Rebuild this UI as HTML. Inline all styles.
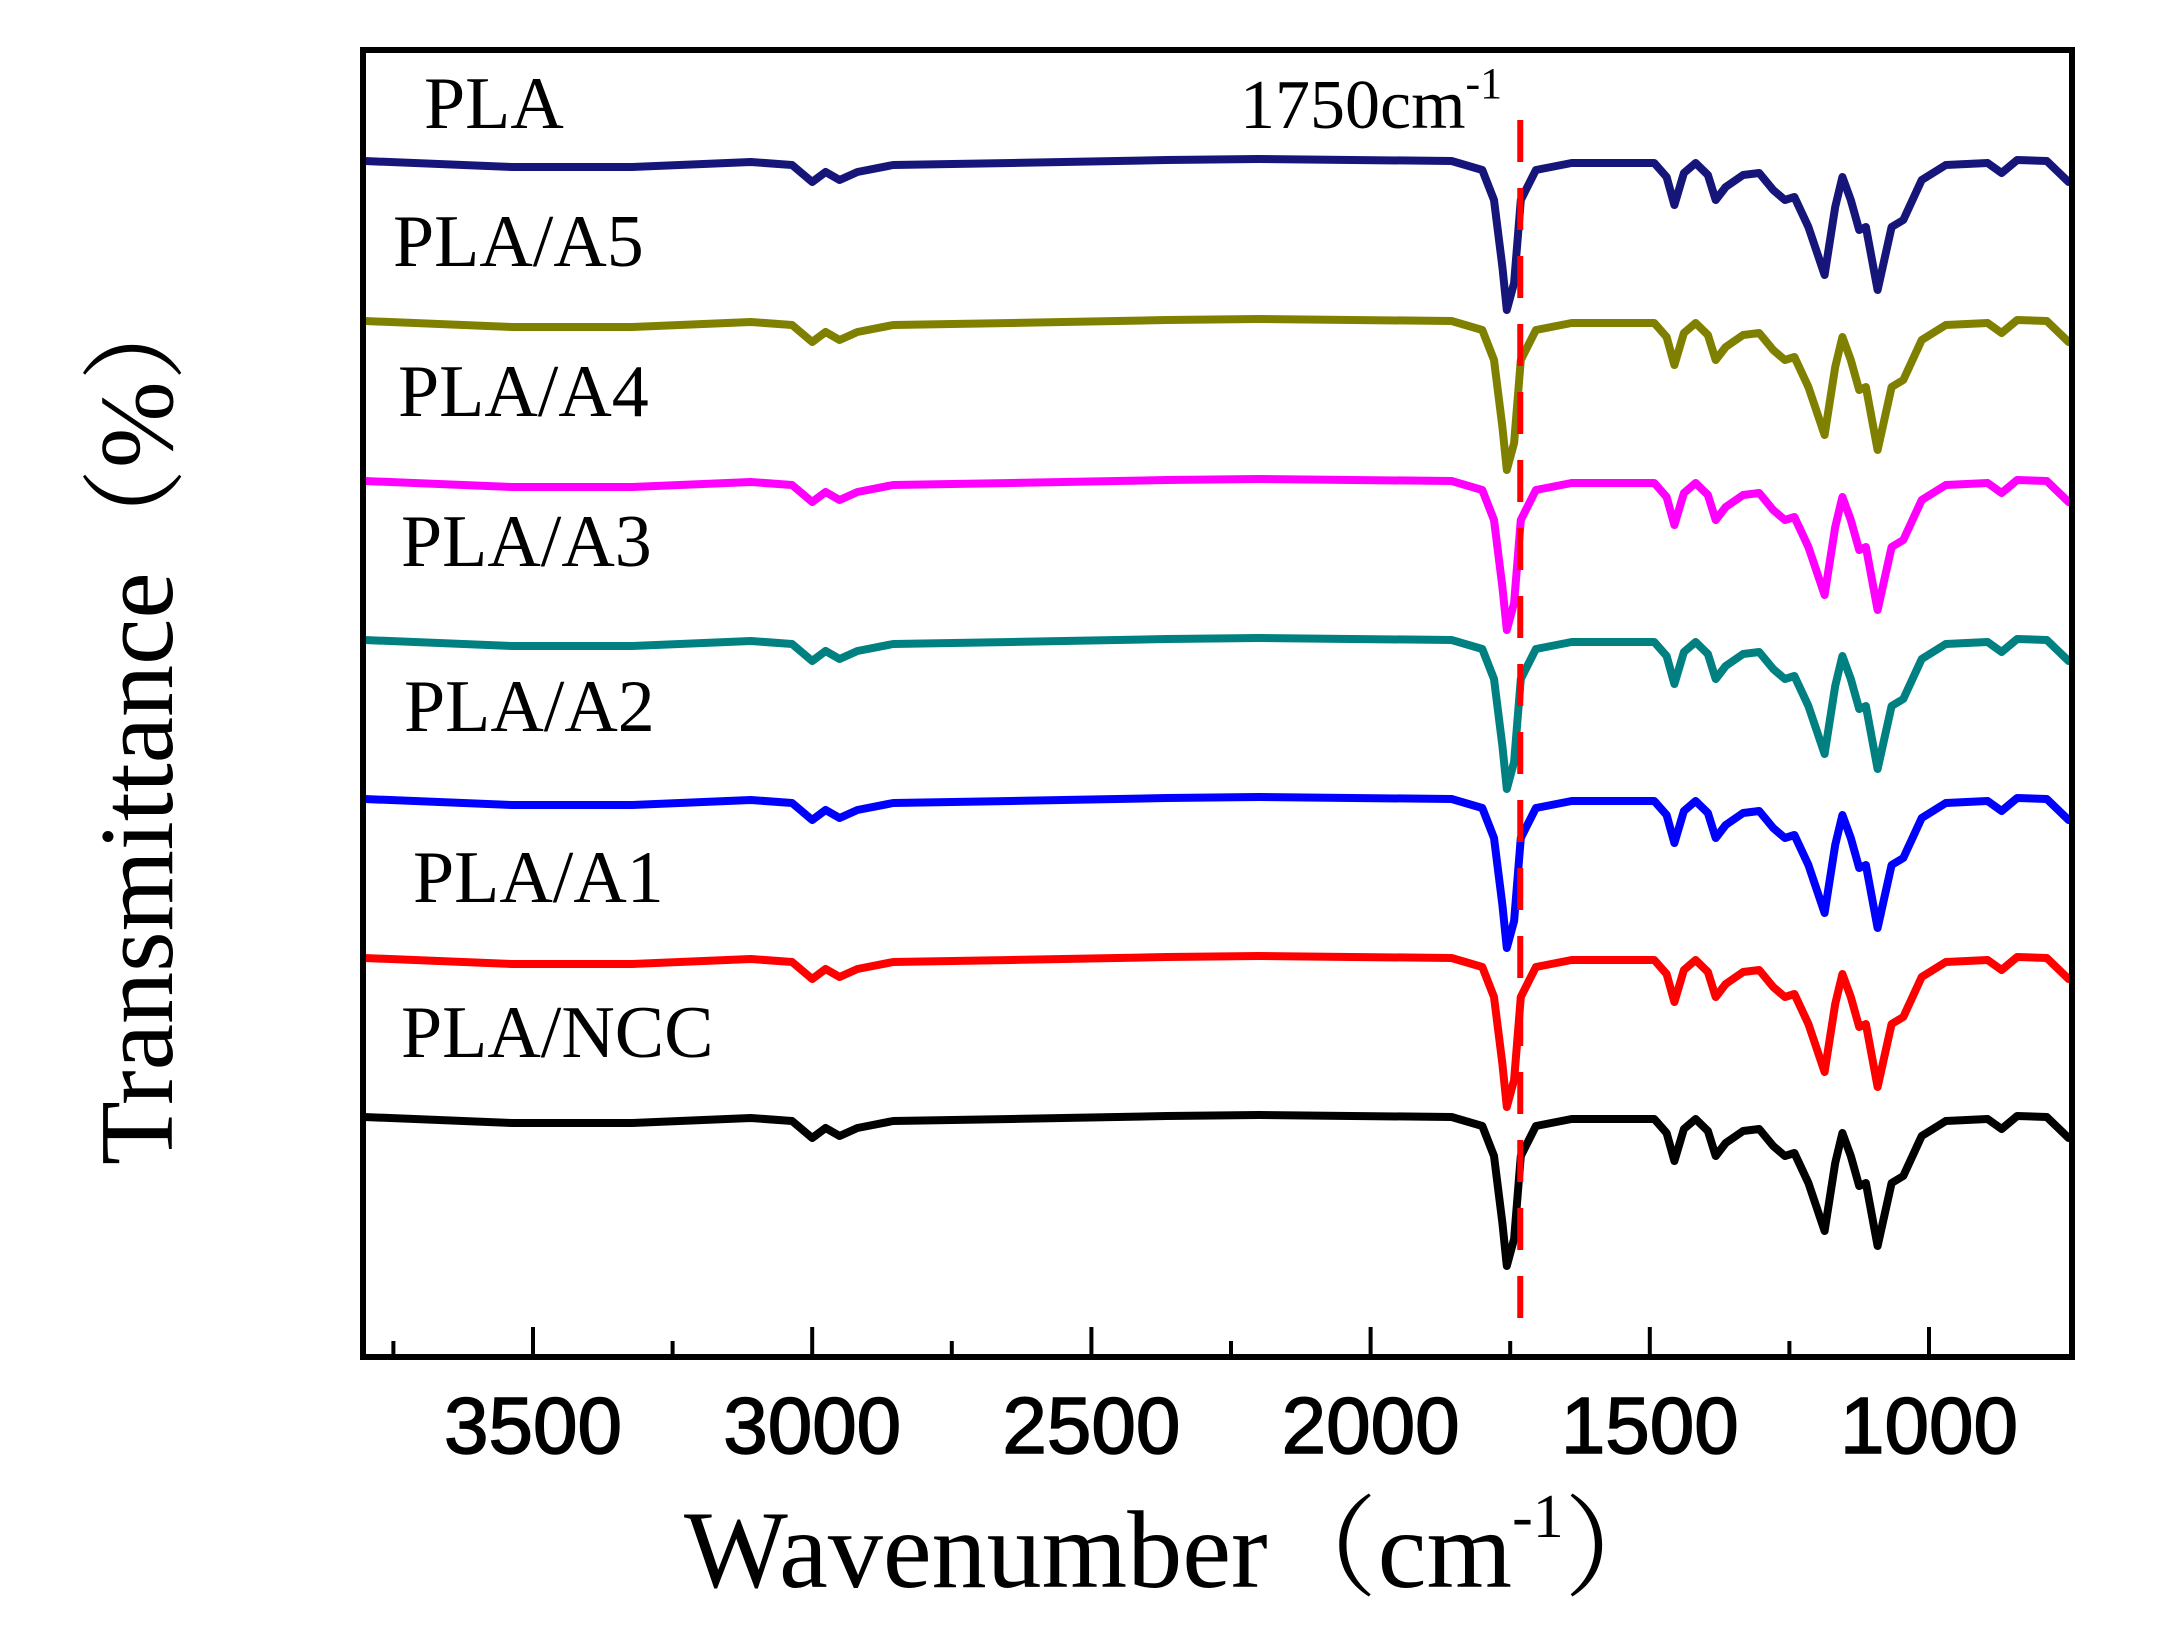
<!DOCTYPE html>
<html><head><meta charset="utf-8"><style>
html,body{margin:0;padding:0;background:#fff;}
svg{display:block;}
</style></head><body>
<svg id="chart" width="2164" height="1628" viewBox="0 0 2164 1628" xmlns="http://www.w3.org/2000/svg">
<rect x="0" y="0" width="2164" height="1628" fill="#fff"/>
<g id="series-layer"></g>
<g id="axes-layer"></g>
</svg>
<script>
const wavenumbers = [3802,3537,3323,3110,3036,3000,2976,2951,2919,2855,2643,2365,2200,1855,1800,1779,1764,1756,1743,1731,1704,1640,1492,1470,1456,1439,1418,1396,1382,1364,1333,1304,1279,1258,1241,1216,1187,1168,1155,1140,1125,1113,1092,1067,1046,1013,970,895,870,842,789,750];
const plaValues   = [0,-6,-6,-1,-4,-21,-11,-19,-11,-4,-2,1,2,0,-9,-39,-106,-149,-122,-39,-9,-2,-2,-16,-44,-12,-2,-14,-39,-26,-14,-12,-29,-39,-36,-66,-114,-46,-16,-39,-69,-66,-129,-66,-59,-19,-4,-2,-12,1,0,-21];
const a5Values    = [0,-6,-6,-1,-4,-21,-11,-19,-11,-4,-2,1,2,0,-9,-39,-106,-149,-122,-39,-9,-2,-2,-16,-44,-12,-2,-14,-39,-26,-14,-12,-29,-39,-36,-66,-114,-46,-16,-39,-69,-66,-129,-66,-59,-19,-4,-2,-12,1,0,-21];
const a4Values    = [0,-6,-6,-1,-4,-21,-11,-19,-11,-4,-2,1,2,0,-9,-39,-106,-149,-122,-39,-9,-2,-2,-16,-44,-12,-2,-14,-39,-26,-14,-12,-29,-39,-36,-66,-114,-46,-16,-39,-69,-66,-129,-66,-59,-19,-4,-2,-12,1,0,-21];
const a3Values    = [0,-6,-6,-1,-4,-21,-11,-19,-11,-4,-2,1,2,0,-9,-39,-106,-149,-122,-39,-9,-2,-2,-16,-44,-12,-2,-14,-39,-26,-14,-12,-29,-39,-36,-66,-114,-46,-16,-39,-69,-66,-129,-66,-59,-19,-4,-2,-12,1,0,-21];
const a2Values    = [0,-6,-6,-1,-4,-21,-11,-19,-11,-4,-2,1,2,0,-9,-39,-106,-149,-122,-39,-9,-2,-2,-16,-44,-12,-2,-14,-39,-26,-14,-12,-29,-39,-36,-66,-114,-46,-16,-39,-69,-66,-129,-66,-59,-19,-4,-2,-12,1,0,-21];
const a1Values    = [0,-6,-6,-1,-4,-21,-11,-19,-11,-4,-2,1,2,0,-9,-39,-106,-149,-122,-39,-9,-2,-2,-16,-44,-12,-2,-14,-39,-26,-14,-12,-29,-39,-36,-66,-114,-46,-16,-39,-69,-66,-129,-66,-59,-19,-4,-2,-12,1,0,-21];
const nccValues   = [0,-6,-6,-1,-4,-21,-11,-19,-11,-4,-2,1,2,0,-9,-39,-106,-149,-122,-39,-9,-2,-2,-16,-44,-12,-2,-14,-39,-26,-14,-12,-29,-39,-36,-66,-114,-46,-16,-39,-69,-66,-129,-66,-59,-19,-4,-2,-12,1,0,-21];
const seriesNames = ["PLA","PLA/A5","PLA/A4","PLA/A3","PLA/A2","PLA/A1","PLA/NCC"];
const seriesOffsets = [0,-160,-320,-479,-638,-797,-956];
const xTickValues = [3500,3000,2500,2000,1500,1000];
const xTickLabels = ["3500","3000","2500","2000","1500","1000"];
const xMinorTicks = [3750,3250,2750,2250,1750,1250];
const markerWavenumber = 1732;

const NS = "http://www.w3.org/2000/svg";
const L = 363, R = 2072, T = 50, B = 1357;
function xScale(wn){ return 1370.6 - (wn - 2000) * 0.5584; }
function yScale(v){ return 161 - v; }
const colors = ["#16167a","#808000","#ff00ff","#008080","#0000ff","#ff0000","#000000"];
const allValues = [plaValues,a5Values,a4Values,a3Values,a2Values,a1Values,nccValues];
const labelPos = [[424,128],[393,266],[398,416],[401,566],[404,731],[413,902],[401,1057]];
const lyr = document.getElementById('series-layer');
const axl = document.getElementById('axes-layer');
function mk(tag, attrs, parent){ const e=document.createElementNS(NS,tag); for(const k in attrs) e.setAttribute(k,attrs[k]); parent.appendChild(e); return e; }

const clip = mk('clipPath',{id:'plotclip'},lyr);
mk('rect',{x:L,y:T,width:R-L,height:B-T},clip);

allValues.forEach((vals,i)=>{
  const pts = vals.map((v,j)=> xScale(wavenumbers[j]).toFixed(1)+','+yScale(v+seriesOffsets[i]).toFixed(1)).join(' ');
  const pl = mk('polyline',{points:pts,fill:'none',stroke:colors[i],'stroke-width':8,'stroke-linejoin':'round','stroke-linecap':'round','clip-path':'url(#plotclip)'},lyr);
  
  
  const t = mk('text',{x:labelPos[i][0],y:labelPos[i][1],'font-family':'"Liberation Serif", serif','font-size':74,fill:'#000'},lyr);
  t.textContent = seriesNames[i];
  
  
});

const dl = mk('line',{x1:xScale(markerWavenumber),x2:xScale(markerWavenumber),y1:120,y2:1332,stroke:'#ff0000','stroke-width':6,'stroke-dasharray':'42,26'},lyr);


const mt = mk('text',{x:1240,y:128,'font-family':'"Liberation Serif", serif','font-size':70,fill:'#000'},lyr);
mt.innerHTML = '1750cm<tspan font-size="44" dy="-30">-1</tspan>';



const frame = mk('rect',{x:L,y:T,width:R-L,height:B-T,fill:'none',stroke:'#000','stroke-width':6},axl);


xTickValues.forEach((v,i)=>{
  const tk = mk('line',{x1:xScale(v),x2:xScale(v),y1:B,y2:B-30,stroke:'#000','stroke-width':4},axl);
  
  
  const tl = mk('text',{x:xScale(v),y:1453,'text-anchor':'middle','font-family':'"Liberation Sans", sans-serif','font-size':80,fill:'#000',stroke:'#000','stroke-width':1.5},axl);
  tl.textContent = xTickLabels[i];
  
  
});
xMinorTicks.forEach(v=>{
  const tk = mk('line',{x1:xScale(v),x2:xScale(v),y1:B,y2:B-16,stroke:'#000','stroke-width':4},axl);
  
  
});
const xt = mk('text',{x:684,y:1587,'font-family':'"Liberation Serif", "Noto Serif CJK SC", serif','font-size':110,fill:'#000'},axl);
xt.innerHTML = 'Wavenumber（cm<tspan font-size="62" dy="-50">-1</tspan><tspan dy="50">）</tspan>';


const yt = mk('text',{x:0,y:0,transform:'translate(172,721) rotate(-90)','text-anchor':'middle','font-family':'"Liberation Serif", "Noto Serif CJK SC", serif','font-size':105,fill:'#000',textLength:888,lengthAdjust:'spacingAndGlyphs'},axl);
yt.textContent = 'Transmittance（%）';


</script>
</body></html>
